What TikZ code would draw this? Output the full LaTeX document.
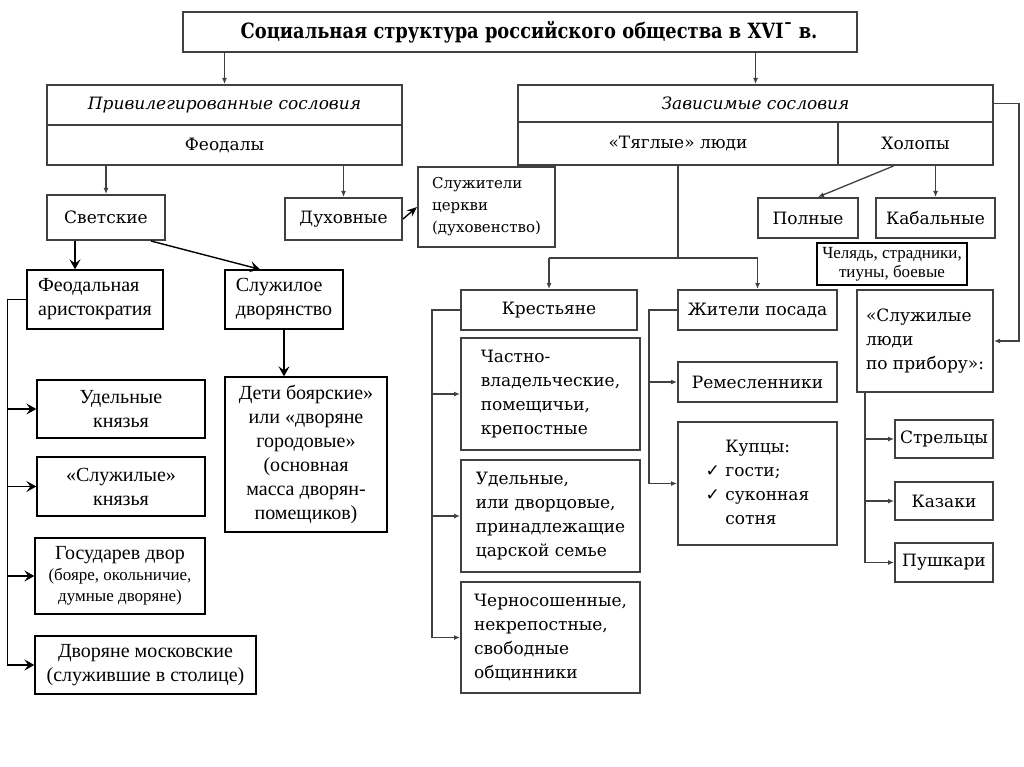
\documentclass[tikz,border=0pt]{standalone}
\usepackage{fontspec}
\setmainfont{Liberation Serif}
\newfontfamily\scanfont{DejaVu Serif}
\newfontfamily\titlefont{DejaVu Serif}[FakeStretch=0.85]
\newfontfamily\symfont{DejaVu Sans}
\usetikzlibrary{arrows.meta}

\begin{document}
\begin{tikzpicture}[x=1pt,y=-1pt,
    scan/.style={draw=black!75, line width=2pt, fill=white, inner sep=1pt, align=center,
      font=\scanfont\fontsize{17}{24}\selectfont},
    clean/.style={draw, line width=1.3pt, fill=white, inner sep=1pt, align=center,
      font=\fontsize{20}{24}\selectfont},
    box/.style 2 args={minimum width=#1pt, minimum height=#2pt},
    sline/.style={line width=1.3pt, draw=black!75},
    sarr/.style={sline, -{Latex[length=6pt,width=5pt]}},
    carr/.style={line width=1.4pt, -{Stealth[length=10pt,width=11pt,inset=4pt]}}]
    \useasboundingbox (0,0) rectangle (1024,767);
    \fill[white] (0,0) rectangle (1024,767);

    % top
    \node (title) [scan, box={674}{40}, line width=2.6pt,
      font=\titlefont\bfseries\fontsize{21}{24}\selectfont] at (520,32)
      {\hspace*{18pt}Социальная структура российского общества в XVI¯ в.};
    \node (priv) [scan, box={355}{40}, font=\scanfont\itshape\fontsize{17}{24}\selectfont] at (224.5,105) {Привилегированные сословия};
    \node (feod) [scan, box={355}{40}] at (224.5,145) {Феодалы};
    \node (dep) [scan, box={475}{37}, font=\scanfont\itshape\fontsize{17}{24}\selectfont] at (755.5,103.5) {Зависимые сословия};
    \node (tyag) [scan, box={320}{43}] at (678,143.5) {«Тяглые» люди};
    \node (holop) [scan, box={155}{43}] at (915.5,143.5) {Холопы};

    % feodaly
    \node (svet) [scan, box={118}{45}] at (106,217.5) {Светские};
    \node (duh) [scan, box={117}{42}] at (343.5,219) {Духовные};
    \node (sluzh) [scan, box={137}{80}, align=left, font=\scanfont\fontsize{15}{22}\selectfont] at (486.5,207) {Служители\\церкви\\(духовенство)};
    \node (fa) [clean, box={136}{59}, align=left] at (95,299.5) {Феодальная\\аристократия};
    \node (sd) [clean, box={118}{59}, align=left] at (284,299.5) {Служилое\\дворянство};
    \node (deti) [clean, box={162}{155}] at (306,454.5) {Дети боярские»\\или «дворяне\\городовые»\\(основная\\масса дворян-\\помещиков)};
    \node (udk) [clean, box={168}{58}] at (121,409) {Удельные\\князья};
    \node (slk) [clean, box={168}{59}] at (121,486.5) {«Служилые»\\князья};
    \node (gdv) [clean, box={170}{76}] at (120,576) {Государев двор\\[-3pt]\fontsize{17}{20}\selectfont (бояре, окольничие,\\[-3pt]\fontsize{17}{20}\selectfont думные дворяне)};
    \node (dvm) [clean, box={221}{58}] at (145.5,665) {Дворяне московские\\(служившие в столице)};

    % tyaglye
    \node (kr) [scan, box={176}{40}] at (549,310) {Крестьяне};
    \node (ch) [scan, box={179}{112}, align=left] at (550.5,394) {Частно-\\владельческие,\\помещичьи,\\крепостные};
    \node (ud) [scan, box={179}{112}, align=left] at (550.5,516) {Удельные,\\или дворцовые,\\принадлежащие\\царской семье};
    \node (cs) [scan, box={179}{111}, align=left] at (550.5,637.5) {Черносошенные,\\некрепостные,\\свободные\\общинники};
    \node (zp) [scan, box={159}{40}] at (757.5,310) {Жители посада};
    \node (rem) [scan, box={159}{40}] at (757.5,382) {Ремесленники};
    \node (kup) [scan, box={159}{123}] at (757.5,483.5)
      {\begin{tabular}{@{}r@{\ }l@{}} & Купцы:\\ {\symfont ✓} & гости;\\ {\symfont ✓} & суконная\\ & сотня\end{tabular}};

    % holopy
    \node (pol) [scan, box={100}{40}] at (808,218) {Полные};
    \node (kab) [scan, box={119}{40}] at (935.5,218) {Кабальные};
    \node (chel) [clean, box={150}{42}, font=\fontsize{17}{19}\selectfont] at (892,264) {Челядь, страдники,\\тиуны, боевые};
    \node (slp) [scan, box={136}{102}, align=left] at (925,341) {«Служилые\\люди\\по прибору»:};
    \node (str) [scan, box={98}{38}] at (944,439) {Стрельцы};
    \node (kaz) [scan, box={98}{38}] at (944,501) {Казаки};
    \node (push) [scan, box={98}{39}] at (944,562.5) {Пушкари};

    % connectors
    \draw[sarr] (title.south -| priv.north) -- (priv.north);
    \draw[sarr] (title.south -| dep.north) -- (dep.north);
    \draw[sarr] (feod.south -| svet.north) -- (svet.north);
    \draw[sarr] (feod.south -| duh.north) -- (duh.north);
    \draw[line width=1.4pt, -{Stealth[length=10pt,width=8pt]}] (duh.east) -- (sluzh.west);

    \coordinate (sv1) at ([xshift=-31pt]svet.south);
    \draw[carr] (sv1) -- (sv1 |- fa.north);
    \draw[carr] ([xshift=-15pt]svet.south east) -- ([xshift=-24pt]sd.north);
    \draw[carr] (sd.south) -- (sd.south |- deti.north);
    \coordinate (lb) at ([xshift=-19pt]fa.west);
    \draw[line width=1.4pt] (fa.west) -- (lb) -- (lb |- dvm.west);
    \foreach \n in {udk,slk,gdv,dvm}
      \draw[carr] (lb |- \n.west) -- (\n.west);

    \draw[sline] (tyag.south) -- ++(0,92) coordinate (tj);
    \draw[sline] (tj -| kr.north) -- (tj -| zp.north);
    \draw[sarr] (tj -| kr.north) -- (kr.north);
    \draw[sarr] (tj -| zp.north) -- (zp.north);

    \coordinate (kb) at ([xshift=-28pt]kr.west);
    \draw[sline] (kr.west) -- (kb) -- (kb |- cs.west);
    \foreach \n in {ch,ud,cs}
      \draw[sarr] (kb |- \n.west) -- (\n.west);

    \coordinate (pb) at ([xshift=-28pt]zp.west);
    \draw[sline] (zp.west) -- (pb) -- (pb |- kup.west);
    \foreach \n in {rem,kup}
      \draw[sarr] (pb |- \n.west) -- (\n.west);

    \draw[sarr] ([xshift=-22pt]holop.south) -- ([xshift=10pt]pol.north);
    \draw[sarr] (holop.south -| kab.north) -- (kab.north);
    \draw[sarr] (dep.east) -- ++(25,0) |- (slp.east);

    \coordinate (rb) at ([xshift=9pt]slp.south west);
    \draw[sline] (rb) -- (rb |- push.west);
    \foreach \n in {str,kaz,push}
      \draw[sarr] (rb |- \n.west) -- (\n.west);
\end{tikzpicture}
\end{document}
